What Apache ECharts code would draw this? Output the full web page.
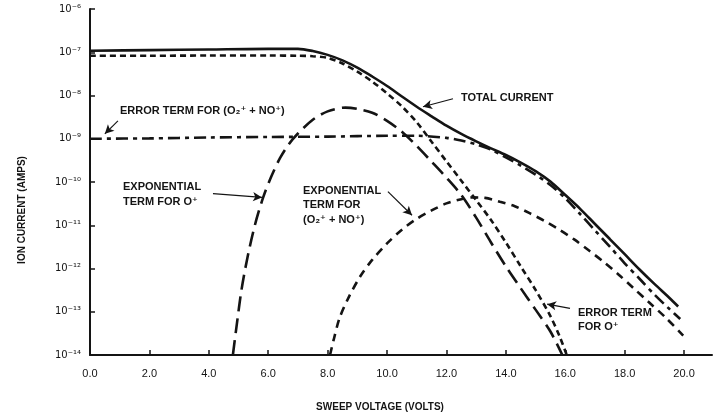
<!DOCTYPE html>
<html><head><meta charset="utf-8">
<script src="https://cdn.jsdelivr.net/npm/echarts@6/dist/echarts.min.js"></script>
<style>html,body{margin:0;padding:0;background:#fff}#c{width:715px;height:414px}</style>
</head><body><div id="c"></div>
<script>
// ---- data ----
const xTickValues = [0, 2, 4, 6, 8, 10, 12, 14, 16, 18, 20];

// Total current (solid)
const totalV = [0, 2, 4, 6, 7, 7.5, 8, 8.5, 9, 9.5, 10, 10.5, 11, 11.5, 12, 12.5, 13, 13.5, 14, 14.5, 15, 15.5, 16, 16.5, 17, 17.5, 18, 18.5, 19, 19.5, 19.8];
const totalI = [1.08e-7, 1.12e-7, 1.16e-7, 1.2e-7, 1.2e-7, 1.07e-7, 8.7e-8, 6.5e-8, 4.4e-8, 2.75e-8, 1.66e-8, 9.5e-9, 5.5e-9, 3.3e-9, 2.0e-9, 1.29e-9, 8.7e-10, 6.0e-10, 4.2e-10, 2.8e-10, 1.78e-10, 1.02e-10, 5.0e-11, 2.4e-11, 1.07e-11, 4.8e-12, 2.14e-12, 9.5e-13, 4.4e-13, 2.1e-13, 1.32e-13];

// Error term for O+ (short dashes)
const errOV = [0, 2, 4, 6, 7, 7.5, 8, 8.5, 9, 9.5, 10, 10.5, 11, 11.5, 12, 12.5, 13, 13.5, 14, 14.5, 15, 15.5, 15.8, 16.05];
const errOI = [8.3e-8, 8.3e-8, 8.4e-8, 8.4e-8, 8.3e-8, 8.1e-8, 7.4e-8, 5.5e-8, 3.55e-8, 2.1e-8, 1.12e-8, 5.6e-9, 2.4e-9, 8.5e-10, 3.0e-10, 1.07e-10, 3.8e-11, 1.32e-11, 4.0e-12, 1.12e-12, 3.2e-13, 7.9e-14, 2.8e-14, 1.0e-14];

// Exponential term for O+ (long dashes)
const expOV = [4.81, 4.95, 5.1, 5.3, 5.55, 5.83, 6.1, 6.4, 6.7, 7.0, 7.5, 8.0, 8.6, 9.0, 9.5, 10, 10.5, 11, 11.5, 12, 12.5, 13, 13.5, 14, 14.5, 15, 15.5, 15.9];
const expOI = [1e-14, 5.6e-14, 3.2e-13, 1.78e-12, 1e-11, 4.4e-11, 1.32e-10, 3.6e-10, 7.6e-10, 1.32e-9, 2.75e-9, 4.3e-9, 5.25e-9, 4.9e-9, 4.0e-9, 2.6e-9, 1.45e-9, 6.8e-10, 2.95e-10, 1.26e-10, 5.0e-11, 1.5e-11, 4.0e-12, 1.12e-12, 3.5e-13, 1.12e-13, 3.5e-14, 1e-14];

// Error term for (O2+ + NO+) (dash-dot)
const errMV = [0, 2, 4, 6, 8, 10, 11, 12, 12.5, 13, 13.5, 14, 14.5, 15, 15.5, 16, 16.5, 17, 17.5, 18, 18.5, 19, 19.5, 19.87];
const errMI = [1.0e-9, 1.02e-9, 1.07e-9, 1.1e-9, 1.12e-9, 1.17e-9, 1.17e-9, 1.05e-9, 9.1e-10, 7.4e-10, 5.6e-10, 3.7e-10, 2.4e-10, 1.48e-10, 8.5e-11, 4.2e-11, 1.82e-11, 7.6e-12, 3.2e-12, 1.32e-12, 5.8e-13, 2.5e-13, 1.17e-13, 6.8e-14];

// Exponential term for (O2+ + NO+) (medium dashes)
const expMV = [8.08, 8.2, 8.4, 8.7, 9.1, 9.5, 10, 10.5, 11, 11.5, 12, 12.5, 12.9, 13.3, 13.8, 14.3, 14.8, 15.3, 15.8, 16.3, 16.8, 17.3, 17.8, 18.3, 18.8, 19.4, 19.97];
const expMI = [1e-14, 2.2e-14, 7.1e-14, 2.1e-13, 6.6e-13, 1.58e-12, 3.8e-12, 7.9e-12, 1.41e-11, 2.2e-11, 3.2e-11, 4.0e-11, 4.4e-11, 4.3e-11, 3.5e-11, 2.75e-11, 1.9e-11, 1.26e-11, 7.9e-12, 4.7e-12, 2.6e-12, 1.41e-12, 7.2e-13, 3.5e-13, 1.7e-13, 7.1e-14, 2.8e-14];

// Annotations: text anchor (left, vertical middle) in data coords
const annoTexts = [
  'ERROR TERM FOR (O\u2082\u207A + NO\u207A)',
  'TOTAL CURRENT',
  'EXPONENTIAL\nTERM FOR O\u207A',
  'EXPONENTIAL\nTERM FOR\n(O\u2082\u207A + NO\u207A)',
  'ERROR TERM\nFOR O\u207A'
];
const annoAt = [[1.01, 4.5e-9], [12.49, 8.9e-9], [1.11, 5.1e-11], [7.17, 2.9e-11], [16.43, 6.4e-14]];
// Arrows: [from, to] in data coords
const arrows = [
  [[0.94, 2.6e-9], [0.5, 1.3e-9]],
  [[12.22, 8.4e-9], [11.21, 5.5e-9]],
  [[4.14, 5.4e-11], [5.79, 4.4e-11]],
  [[10.03, 6.0e-11], [10.84, 1.7e-11]],
  [[16.16, 1.2e-13], [15.39, 1.5e-13]]
];

// ---- chart ----
const INK = '#141414';
const FONT = '"Liberation Sans", Arial, "DejaVu Sans", sans-serif';
const supMap = {'-':'\u207B','0':'\u2070','1':'\u00B9','2':'\u00B2','3':'\u00B3','4':'\u2074','5':'\u2075','6':'\u2076','7':'\u2077','8':'\u2078','9':'\u2079'};
function pairs(xs, ys) { return xs.map((x, i) => [x, ys[i]]); }
function lineSeries(name, xs, ys, dash) {
  return {
    name, type: 'line', data: pairs(xs, ys), showSymbol: false, symbol: 'none',
    smooth: 0.3, silent: true,
    lineStyle: { color: INK, width: 2.6, type: dash, cap: 'butt' },
    z: 3
  };
}

const chart = echarts.init(document.getElementById('c'), null, { renderer: 'canvas' });
const series = [
  lineSeries('Total current', totalV, totalI, 'solid'),
  lineSeries('Error term O+', errOV, errOI, [6, 4]),
  lineSeries('Exponential term O+', expOV, expOI, [15, 7]),
  lineSeries('Error term (O2+ + NO+)', errMV, errMI, [12, 5, 4, 5]),
  lineSeries('Exponential term (O2+ + NO+)', expMV, expMI, [8, 6])
];
series[0].markLine = {
  silent: true, animation: false,
  symbol: ['none', 'arrow'], symbolSize: [7, 9],
  label: { show: false },
  lineStyle: { color: INK, width: 1.2, type: 'solid' },
  data: arrows.map(a => [{ coord: a[0] }, { coord: a[1] }])
};

chart.setOption({
  animation: false,
  backgroundColor: '#fff',
  grid: { left: 90, right: 3, top: 9, bottom: 59, containLabel: false },
  xAxis: {
    type: 'value', min: 0, max: 20.94,
    axisLine: { lineStyle: { color: INK, width: 2 } },
    axisTick: { inside: true, length: 5, customValues: xTickValues, lineStyle: { color: INK, width: 1.5 } },
    axisLabel: { customValues: xTickValues, margin: 13, color: INK, fontSize: 11, fontFamily: FONT,
      formatter: v => (xTickValues.indexOf(v) >= 0 ? v.toFixed(1) : '') },
    splitLine: { show: false }
  },
  yAxis: {
    type: 'log', logBase: 10, min: 1e-14, max: 1e-6,
    axisLine: { lineStyle: { color: INK, width: 2 } },
    axisTick: { inside: true, length: 5, lineStyle: { color: INK, width: 1.5 } },
    minorTick: { show: false },
    axisLabel: { margin: 9, color: INK, fontSize: 10, fontFamily: '"DejaVu Sans", sans-serif',
      formatter: v => { const e = String(Math.round(Math.log10(v))); return '10' + e.split('').map(c => supMap[c]).join(''); } },
    splitLine: { show: false }
  },
  series
});

const annoGraphics = annoTexts.map((t, i) => {
  const p = chart.convertToPixel({ gridIndex: 0 }, annoAt[i]);
  return {
    type: 'text', x: p[0], y: p[1], silent: true,
    style: { text: t, fill: INK, font: 'bold 11px ' + FONT, textAlign: 'left', textVerticalAlign: 'middle', lineHeight: 14.5 }
  };
});
annoGraphics.push({
  type: 'text', x: 380, y: 407, silent: true,
  style: { text: 'SWEEP VOLTAGE (VOLTS)', fill: INK, font: 'bold 10px ' + FONT, textAlign: 'center', textVerticalAlign: 'middle' }
});
annoGraphics.push({
  type: 'text', x: 22, y: 210, rotation: Math.PI / 2, silent: true,
  style: { text: 'ION CURRENT (AMPS)', fill: INK, font: 'bold 10px ' + FONT, textAlign: 'center', textVerticalAlign: 'middle' }
});
chart.setOption({ graphic: annoGraphics });
</script>
</body></html>
